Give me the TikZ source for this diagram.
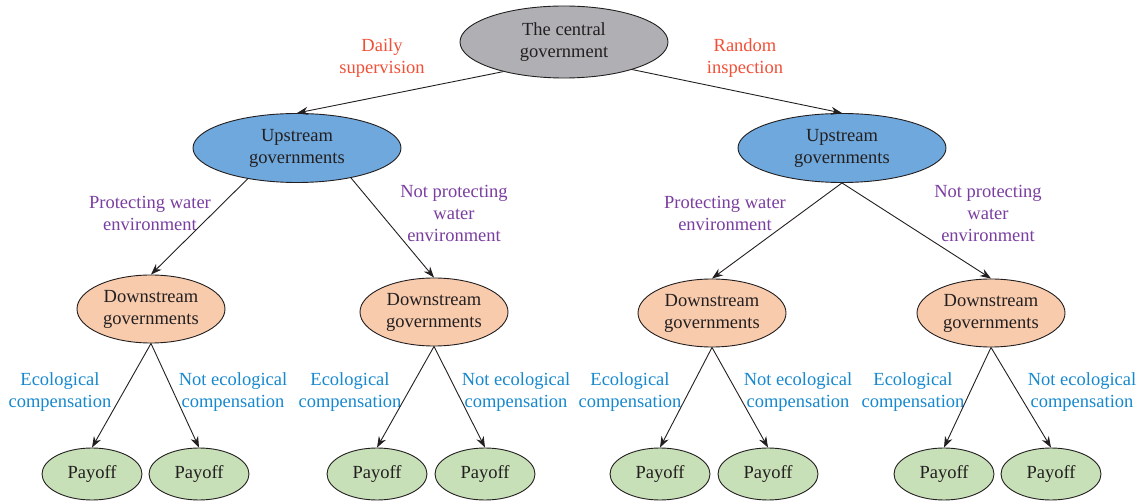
\documentclass[tikz,border=0pt]{standalone}
\usepackage{fontspec}
\setmainfont{Liberation Serif}
\usepackage{tikz}
\usetikzlibrary{shapes.geometric,arrows.meta}
\definecolor{govgray}{RGB}{176,176,180}
\definecolor{upblue}{RGB}{111,168,220}
\definecolor{downpeach}{RGB}{248,203,173}
\definecolor{paygreen}{RGB}{199,224,183}
\definecolor{choicered}{RGB}{240,80,55}
\definecolor{choicepurple}{RGB}{122,62,160}
\definecolor{choiceblue}{RGB}{22,136,206}
\definecolor{ink}{RGB}{35,31,32}

\begin{document}
\begin{tikzpicture}[x=1pt,y=-1pt,
    every node/.style={font=\fontsize{18.5}{22}\selectfont, align=center},
    player/.style={ellipse, draw=ink, line width=0.9pt, inner sep=0pt, text=ink},
    centralgov/.style={player, fill=govgray, minimum width=208, minimum height=72},
    upgov/.style={player, fill=upblue, minimum width=208, minimum height=69},
    downgov/.style={player, fill=downpeach, minimum width=148, minimum height=68},
    payoff/.style={player, fill=paygreen, minimum width=100, minimum height=52},
    arr/.style={draw=ink, line width=0.9pt, -{Stealth[length=11pt,width=8pt]}},
    lblred/.style={text=choicered},
    lblpurple/.style={text=choicepurple},
    lblblue/.style={text=choiceblue}]
    \useasboundingbox (0,0) rectangle (1143,502);
    \node[centralgov] (cg) at (564,42) {The central\\government};
    \node[upgov] (upA) at (297,148) {Upstream\\governments};
    \node[upgov] (upB) at (842,148) {Upstream\\governments};
    \node[downgov] (dnA1) at (151,309) {Downstream\\governments};
    \node[downgov] (dnA2) at (434,312) {Downstream\\governments};
    \node[downgov] (dnB1) at (712,313) {Downstream\\governments};
    \node[downgov] (dnB2) at (991,313) {Downstream\\governments};
    \foreach \n/\x in {1/92,2/199,3/377,4/485,5/660,6/768,7/944,8/1051}
      \node[payoff] (pay\n) at (\x,474) {Payoff};
    \node[lblred] (daily) at (382,58) {Daily\\supervision};
    \node[lblred] (random) at (745,58) {Random\\inspection};
    \node[lblpurple] (protA) at (150,213) {Protecting water\\environment};
    \node[lblpurple] (notprotA) at (454,213) {Not protecting\\water\\environment};
    \node[lblpurple] (protB) at (725,213) {Protecting water\\environment};
    \node[lblpurple] (notprotB) at (988,213) {Not protecting\\water\\environment};
    \foreach \n/\x in {1/60,2/350,3/630,4/913}
      \node[lblblue] (eco\n) at (\x,392) {Ecological\\compensation};
    \foreach \n/\x in {1/233,2/516,3/798,4/1082}
      \node[lblblue] (noeco\n) at (\x,392) {Not ecological\\compensation};
    \draw[arr] (cg.206) -- (upA.north);
    \draw[arr] (cg.338) -- (upB.north);
    \draw[arr] (upA.212) -- (dnA1.north);
    \draw[arr] (upA.331) -- (dnA2.north);
    \draw[arr] (upB.south) -- (dnB1.north);
    \draw[arr] (upB.south) -- (dnB2.north);
    \draw[arr] (dnA1.south) -- (pay1.north);
    \draw[arr] (dnA1.south) -- (pay2.north);
    \draw[arr] (dnA2.south) -- (pay3.north);
    \draw[arr] (dnA2.south) -- (pay4.north);
    \draw[arr] (dnB1.south) -- (pay5.north);
    \draw[arr] (dnB1.south) -- (pay6.north);
    \draw[arr] (dnB2.south) -- (pay7.north);
    \draw[arr] (dnB2.south) -- (pay8.north);
\end{tikzpicture}
\end{document}
